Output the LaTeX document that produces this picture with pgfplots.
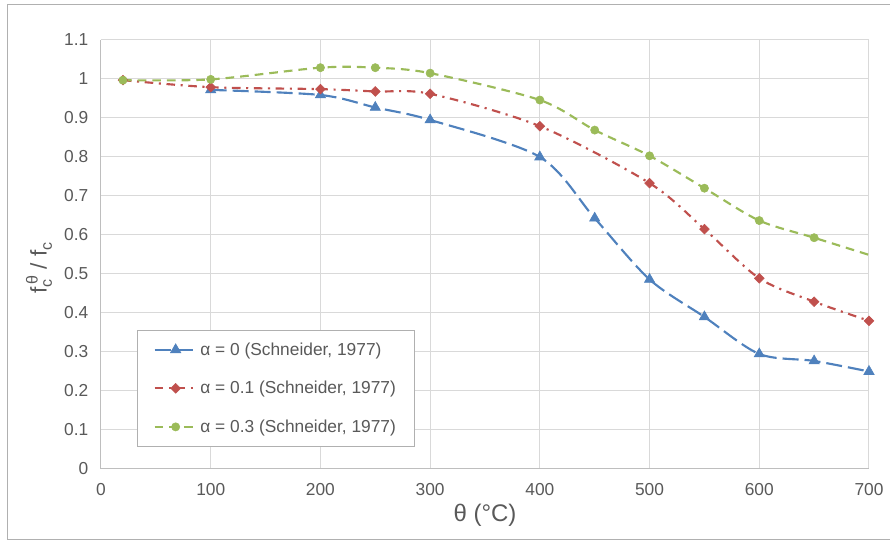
\documentclass[border=0pt]{standalone}
\usepackage{pgfplots}
\pgfplotsset{compat=1.18}
\usepackage{fontspec}
\setmainfont{Liberation Sans}

\definecolor{sblue}{HTML}{4F81BD}
\definecolor{sred}{HTML}{C0504D}
\definecolor{sgreen}{HTML}{9BBB59}
\definecolor{tickgray}{HTML}{595959}
\definecolor{gridgray}{HTML}{D9D9D9}
\definecolor{framegray}{HTML}{B0B0B0}

\begin{document}
\begin{tikzpicture}[x=1pt,y=1pt]
\useasboundingbox (0,0) rectangle (667.5,405.75);
% chart frame
\draw[framegray, line width=0.75pt] (667.5,402) -- (5.25,402) -- (5.25,0.75) -- (667.5,0.75);
\begin{axis}[
  at={(75.75pt,54pt)}, anchor=south west,
  scale only axis, width=576pt, height=321.75pt,
  xmin=0, xmax=700, ymin=0, ymax=1.1,
  xtick={0,100,200,300,400,500,600,700},
  ytick={0,0.1,0.2,0.3,0.4,0.5,0.6,0.7,0.8,0.9,1,1.1},
  yticklabels={0,0.1,0.2,0.3,0.4,0.5,0.6,0.7,0.8,0.9,1,1.1},
  grid=major,
  grid style={gridgray, line width=0.75pt},
  axis line style={draw=gridgray!70!gray, line width=0.75pt},
  axis x line*=bottom, axis y line*=left,
  tick style={draw=none},
  /pgf/number format/assume math mode=true,
  tick label style={font=\fontsize{13}{15}\selectfont, text=tickgray},
  xticklabel style={yshift=-7.5pt},
  yticklabel style={xshift=-6pt},
  xlabel={θ (°C)},
  xlabel style={at={(axis description cs:0.5,-0.1072)}, anchor=center,
    font=\fontsize{18}{20}\selectfont, text=tickgray},
  ylabel={f\rlap{\raisebox{-0.45ex}{\fontsize{12}{14}\selectfont c}}\raisebox{0.75ex}{\fontsize{12}{14}\selectfont \,θ}\ /\ f\raisebox{-0.45ex}{\fontsize{12}{14}\selectfont c}},
  ylabel style={at={(axis description cs:-0.0807,0.4686)}, anchor=center,
    font=\fontsize{17}{19}\selectfont, text=tickgray},
  legend style={at={(axis description cs:0.047,0.324)}, anchor=north west,
    draw=framegray, line width=0.75pt, fill=white,
    font=\fontsize{13}{15}\selectfont, text=tickgray,
    inner xsep=12pt, inner ysep=7pt, row sep=14pt},
  legend cell align=left,
  legend image code/.code={%
    \draw[mark=none] (0pt,0pt) -- (31.5pt,0pt);
    \draw plot[mark indices={1}] coordinates {(15.75pt,0pt)};},
]
\addplot[sblue, line width=1.6pt, smooth, dash pattern=on 12pt off 4.5pt,
  mark=triangle*, mark size=4.5pt, mark options={solid, line width=0.4pt, fill=sblue}]
  coordinates {(100,0.972) (200,0.959) (250,0.927) (300,0.895) (400,0.800)
               (450,0.643) (500,0.486) (550,0.390) (600,0.295) (650,0.277) (700,0.250)};
\addlegendentry{α = 0 (Schneider, 1977)}
\addplot[sred, line width=1.6pt, smooth, dash pattern=on 6.4pt off 4.2pt on 1.6pt off 4.2pt,
  mark=square*, mark size=2.6pt, mark options={solid, rotate=45, line width=0.4pt, fill=sred}]
  coordinates {(20,0.997) (100,0.979) (200,0.974) (250,0.968) (300,0.962) (400,0.879)
               (500,0.733) (550,0.615) (600,0.489) (650,0.429) (700,0.380)};
\addlegendentry{α = 0.1 (Schneider, 1977)}
\addplot[sgreen, line width=1.6pt, smooth, dash pattern=on 6.5pt off 4.5pt,
  mark=*, mark size=3.1pt, mark indices={1,...,11}, mark options={solid, line width=0.4pt, fill=sgreen}]
  coordinates {(20,0.997) (100,0.999) (200,1.029) (250,1.029) (300,1.015) (400,0.946)
               (450,0.869) (500,0.803) (550,0.720) (600,0.637) (650,0.593) (700,0.549)};
\addlegendentry{α = 0.3 (Schneider, 1977)}
\end{axis}
\end{tikzpicture}
\end{document}
